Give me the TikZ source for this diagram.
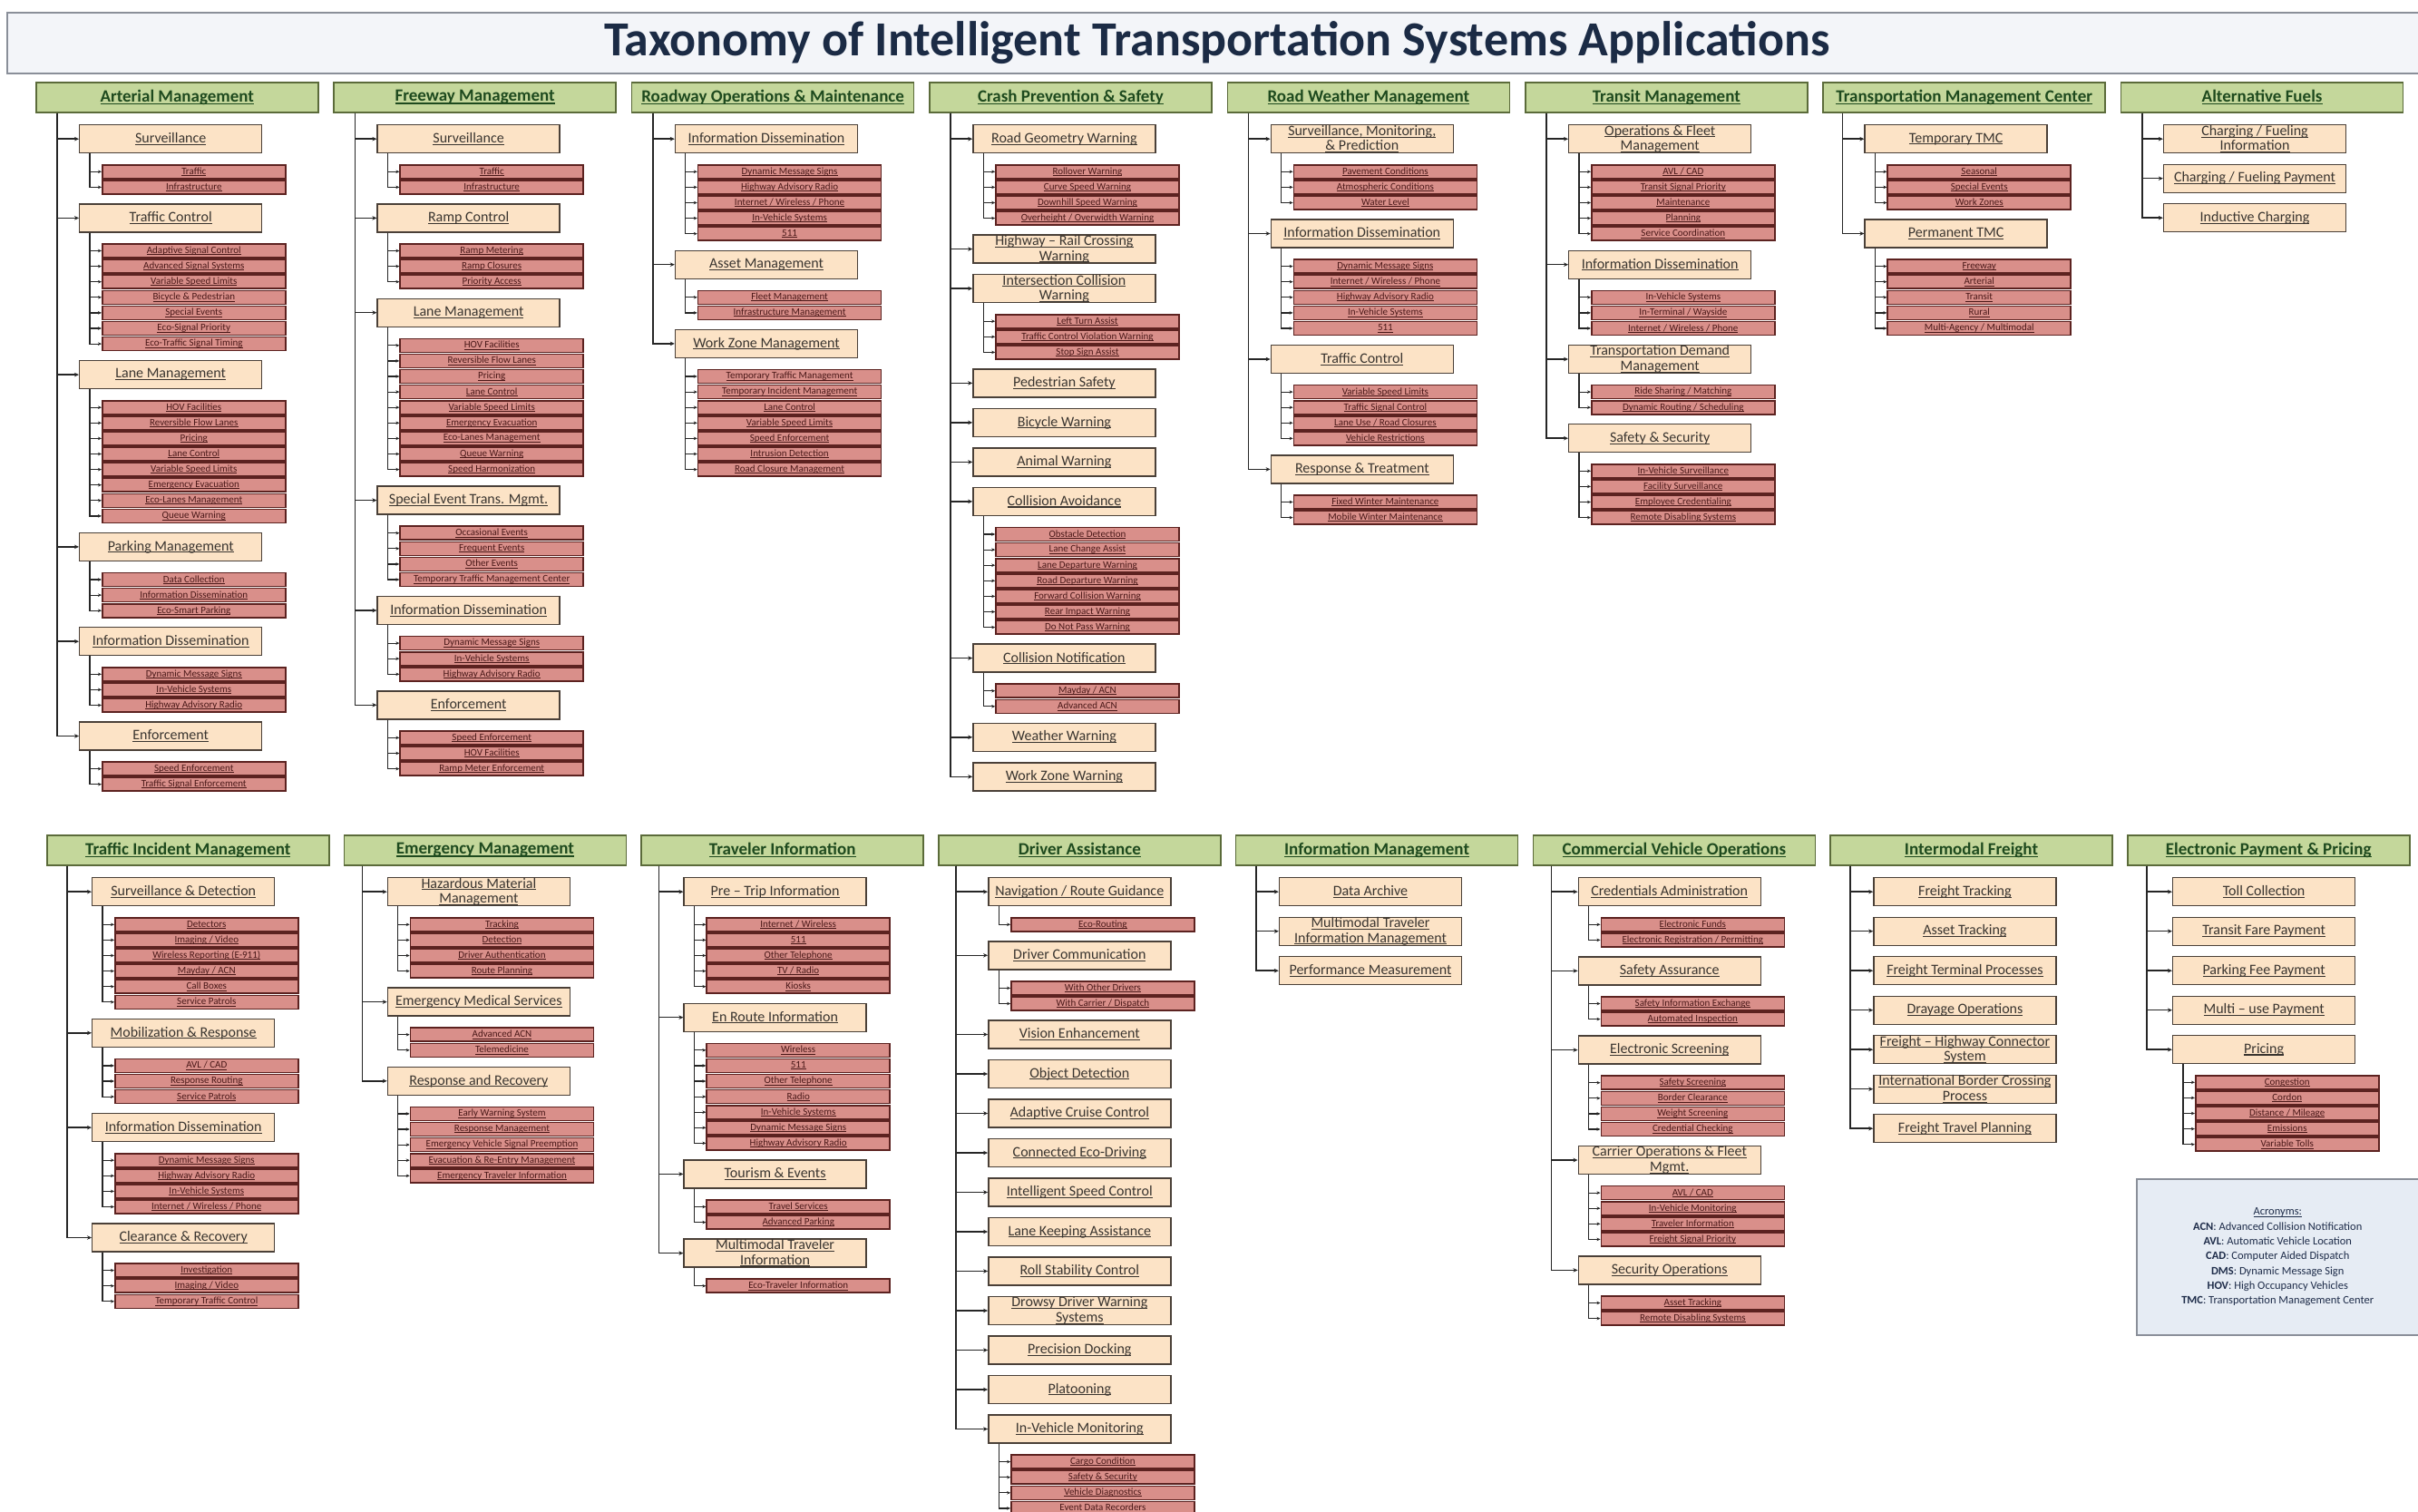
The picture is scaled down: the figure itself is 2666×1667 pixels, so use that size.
\documentclass[tikz,border=0pt]{standalone}
\usepackage{fontspec}
\setmainfont{Carlito}
\usetikzlibrary{arrows.meta,calc}

\definecolor{hdrfill}{HTML}{C4D79B}
\definecolor{hdrline}{HTML}{5B6B3A}
\definecolor{hdrtext}{HTML}{1E4A1E}
\definecolor{catfill}{HTML}{FCE3C6}
\definecolor{catline}{HTML}{4A4038}
\definecolor{cattext}{HTML}{3A3530}
\definecolor{itemfill}{HTML}{D98F8A}
\definecolor{itemline}{HTML}{5C2220}
\definecolor{itemtext}{HTML}{4A1818}
\definecolor{titlefill}{HTML}{F3F5F9}
\definecolor{titleline}{HTML}{8A8F99}
\definecolor{titletext}{HTML}{1B2B45}
\definecolor{notefill}{HTML}{E6ECF4}
\definecolor{notetext}{HTML}{1F2D4A}

% underline whose rule scales with the font size
\newsavebox\ulbox
\newcommand\UL[1]{\leavevmode\sbox\ulbox{#1}\rlap{\rule[-0.14em]{\wd\ulbox}{0.07em}}\usebox\ulbox}

\tikzset{
  hdr/.style={draw=hdrline, line width=1.6pt, fill=hdrfill, minimum width=311pt,
    minimum height=33pt, inner sep=0pt, anchor=north west,
    font=\fontsize{19}{20}\selectfont\bfseries, text=hdrtext},
  cat/.style={draw=catline, line width=1.4pt, fill=catfill, minimum width=201pt,
    minimum height=31pt, inner sep=0pt, anchor=north west, align=center,
    font=\fontsize{16}{16.5}\selectfont, text=cattext},
  item/.style={draw=itemline, line width=1.6pt, fill=itemfill, minimum width=202pt,
    minimum height=15pt, inner sep=0pt, anchor=north west,
    font=\fontsize{11}{11}\selectfont, text=itemtext},
  trunk/.style={draw=black!85, line width=1.5pt, -{Stealth[length=5pt,width=4.5pt]}},
  twig/.style={draw=black!85, line width=1.2pt, -{Stealth[length=4pt,width=3.5pt]}},
}

\newcounter{catn}
\newcounter{itemn}

% #1 id, #2 left x, #3 top y, #4 title, #5 category offset, #6 trunk offset
\newcommand\TaxCol[6]{%
  \node[hdr] (#1) at (#2,#3) {\UL{#4}};
  \coordinate (#1-t) at ($(#1.south west)+(#6,0)$);
  \xdef\ColId{#1}%
  \setcounter{catn}{0}%
  \pgfmathparse{#2+#5}\xdef\CatX{\pgfmathresult}%
  \pgfmathparse{#3+47}\xdef\NextY{\pgfmathresult}%
}
\newcommand\TaxCatNode[1]{%
  \stepcounter{catn}\setcounter{itemn}{0}%
  \xdef\CatId{\ColId-c\arabic{catn}}%
  \node[cat] (\CatId) at (\CatX,\NextY) {#1};
  \draw[trunk] (\ColId-t) |- (\CatId.west);
  \coordinate (\CatId-t) at ($(\CatId.south west)+(12,0)$);
  \pgfmathparse{\NextY+44}\xdef\ItemY{\pgfmathresult}%
  \pgfmathparse{\NextY+43.5}\xdef\NextY{\pgfmathresult}%
  \pgfmathparse{\CatX+25}\xdef\ItemX{\pgfmathresult}%
}
\newcommand\TaxCat[1]{\TaxCatNode{\UL{#1}}}
\newcommand\TaxCatII[2]{\TaxCatNode{\UL{#1}\\\UL{#2}}}
\newcommand\TaxItem[1]{%
  \stepcounter{itemn}%
  \xdef\ItemId{\CatId-i\arabic{itemn}}%
  \node[item] (\ItemId) at (\ItemX,\ItemY) {\UL{#1}};
  \draw[twig] (\CatId-t) |- (\ItemId.west);
  \pgfmathparse{\ItemY+17.1}\xdef\ItemY{\pgfmathresult}%
  \pgfmathparse{\ItemY+9}\xdef\NextY{\pgfmathresult}%
}

\begin{document}
\begin{tikzpicture}[x=1pt,y=-1pt]
\useasboundingbox (0,0) rectangle (2666,1667);
\fill[white] (0,0) rectangle (2666,1667);
\clip (0,0) rectangle (2666,1667);

% title bar
\node[draw=titleline, line width=1.6pt, fill=titlefill, anchor=north west,
  minimum width=2668pt, minimum height=67pt, inner sep=0pt,
  font=\fontsize{54}{60}\selectfont\bfseries, text=titletext]
  (title) at (7,13) {Taxonomy of Intelligent Transportation Systems Applications};

% ---------------- upper row ----------------
\TaxCol{ta}{39}{90}{Arterial Management}{48}{24}
\TaxCat{Surveillance}
  \TaxItem{Traffic}\TaxItem{Infrastructure}
\TaxCat{Traffic Control}
  \TaxItem{Adaptive Signal Control}\TaxItem{Advanced Signal Systems}
  \TaxItem{Variable Speed Limits}\TaxItem{Bicycle \& Pedestrian}
  \TaxItem{Special Events}\TaxItem{Eco-Signal Priority}
  \TaxItem{Eco-Traffic Signal Timing}
\TaxCat{Lane Management}
  \TaxItem{HOV Facilities}\TaxItem{Reversible Flow Lanes}\TaxItem{Pricing}
  \TaxItem{Lane Control}\TaxItem{Variable Speed Limits}
  \TaxItem{Emergency Evacuation}\TaxItem{Eco-Lanes Management}
  \TaxItem{Queue Warning}
\TaxCat{Parking Management}
  \TaxItem{Data Collection}\TaxItem{Information Dissemination}
  \TaxItem{Eco-Smart Parking}
\TaxCat{Information Dissemination}
  \TaxItem{Dynamic Message Signs}\TaxItem{In-Vehicle Systems}
  \TaxItem{Highway Advisory Radio}
\TaxCat{Enforcement}
  \TaxItem{Speed Enforcement}\TaxItem{Traffic Signal Enforcement}

\TaxCol{tb}{367.4}{90}{Freeway Management}{48}{24}
\TaxCat{Surveillance}
  \TaxItem{Traffic}\TaxItem{Infrastructure}
\TaxCat{Ramp Control}
  \TaxItem{Ramp Metering}\TaxItem{Ramp Closures}\TaxItem{Priority Access}
\TaxCat{Lane Management}
  \TaxItem{HOV Facilities}\TaxItem{Reversible Flow Lanes}\TaxItem{Pricing}
  \TaxItem{Lane Control}\TaxItem{Variable Speed Limits}
  \TaxItem{Emergency Evacuation}\TaxItem{Eco-Lanes Management}
  \TaxItem{Queue Warning}\TaxItem{Speed Harmonization}
\TaxCat{Special Event Trans. Mgmt.}
  \TaxItem{Occasional Events}\TaxItem{Frequent Events}\TaxItem{Other Events}
  \TaxItem{Temporary Traffic Management Center}
\TaxCat{Information Dissemination}
  \TaxItem{Dynamic Message Signs}\TaxItem{In-Vehicle Systems}
  \TaxItem{Highway Advisory Radio}
\TaxCat{Enforcement}
  \TaxItem{Speed Enforcement}\TaxItem{HOV Facilities}
  \TaxItem{Ramp Meter Enforcement}

\TaxCol{tc}{695.8}{90}{Roadway Operations \& Maintenance}{48}{24}
\TaxCat{Information Dissemination}
  \TaxItem{Dynamic Message Signs}\TaxItem{Highway Advisory Radio}
  \TaxItem{Internet / Wireless / Phone}\TaxItem{In-Vehicle Systems}
  \TaxItem{511}
\TaxCat{Asset Management}
  \TaxItem{Fleet Management}\TaxItem{Infrastructure Management}
\TaxCat{Work Zone Management}
  \TaxItem{Temporary Traffic Management}\TaxItem{Temporary Incident Management}
  \TaxItem{Lane Control}\TaxItem{Variable Speed Limits}
  \TaxItem{Speed Enforcement}\TaxItem{Intrusion Detection}
  \TaxItem{Road Closure Management}

\TaxCol{td}{1024.2}{90}{Crash Prevention \& Safety}{48}{24}
\TaxCat{Road Geometry Warning}
  \TaxItem{Rollover Warning}\TaxItem{Curve Speed Warning}
  \TaxItem{Downhill Speed Warning}\TaxItem{Overheight / Overwidth Warning}
\TaxCatII{Highway -- Rail Crossing}{Warning}
\TaxCatII{Intersection Collision}{Warning}
  \TaxItem{Left Turn Assist}\TaxItem{Traffic Control Violation Warning}
  \TaxItem{Stop Sign Assist}
\TaxCat{Pedestrian Safety}
\TaxCat{Bicycle Warning}
\TaxCat{Animal Warning}
\TaxCat{Collision Avoidance}
  \TaxItem{Obstacle Detection}\TaxItem{Lane Change Assist}
  \TaxItem{Lane Departure Warning}\TaxItem{Road Departure Warning}
  \TaxItem{Forward Collision Warning}\TaxItem{Rear Impact Warning}
  \TaxItem{Do Not Pass Warning}
\TaxCat{Collision Notification}
  \TaxItem{Mayday / ACN}\TaxItem{Advanced ACN}
\TaxCat{Weather Warning}
\TaxCat{Work Zone Warning}

\TaxCol{te}{1352.6}{90}{Road Weather Management}{48}{24}
\TaxCatII{Surveillance, Monitoring,}{\& Prediction}
  \TaxItem{Pavement Conditions}\TaxItem{Atmospheric Conditions}
  \TaxItem{Water Level}
\TaxCat{Information Dissemination}
  \TaxItem{Dynamic Message Signs}\TaxItem{Internet / Wireless / Phone}
  \TaxItem{Highway Advisory Radio}\TaxItem{In-Vehicle Systems}\TaxItem{511}
\TaxCat{Traffic Control}
  \TaxItem{Variable Speed Limits}\TaxItem{Traffic Signal Control}
  \TaxItem{Lane Use / Road Closures}\TaxItem{Vehicle Restrictions}
\TaxCat{Response \& Treatment}
  \TaxItem{Fixed Winter Maintenance}\TaxItem{Mobile Winter Maintenance}

\TaxCol{tf}{1681}{90}{Transit Management}{48}{24}
\TaxCatII{Operations \& Fleet}{Management}
  \TaxItem{AVL / CAD}\TaxItem{Transit Signal Priority}\TaxItem{Maintenance}
  \TaxItem{Planning}\TaxItem{Service Coordination}
\TaxCat{Information Dissemination}
  \TaxItem{In-Vehicle Systems}\TaxItem{In-Terminal / Wayside}
  \TaxItem{Internet / Wireless / Phone}
\TaxCatII{Transportation Demand}{Management}
  \TaxItem{Ride Sharing / Matching}\TaxItem{Dynamic Routing / Scheduling}
\TaxCat{Safety \& Security}
  \TaxItem{In-Vehicle Surveillance}\TaxItem{Facility Surveillance}
  \TaxItem{Employee Credentialing}\TaxItem{Remote Disabling Systems}

\TaxCol{tg}{2009.4}{90}{Transportation Management Center}{46}{22}
\TaxCat{Temporary TMC}
  \TaxItem{Seasonal}\TaxItem{Special Events}\TaxItem{Work Zones}
\TaxCat{Permanent TMC}
  \TaxItem{Freeway}\TaxItem{Arterial}\TaxItem{Transit}\TaxItem{Rural}
  \TaxItem{Multi-Agency / Multimodal}

\TaxCol{th}{2337.8}{90}{Alternative Fuels}{47}{24}
\TaxCatII{Charging / Fueling}{Information}
\TaxCat{Charging / Fueling Payment}
\TaxCat{Inductive Charging}

% ---------------- lower row ----------------
\TaxCol{ba}{51}{920}{Traffic Incident Management}{50}{23}
\TaxCat{Surveillance \& Detection}
  \TaxItem{Detectors}\TaxItem{Imaging / Video}
  \TaxItem{Wireless Reporting (E-911)}\TaxItem{Mayday / ACN}
  \TaxItem{Call Boxes}\TaxItem{Service Patrols}
\TaxCat{Mobilization \& Response}
  \TaxItem{AVL / CAD}\TaxItem{Response Routing}\TaxItem{Service Patrols}
\TaxCat{Information Dissemination}
  \TaxItem{Dynamic Message Signs}\TaxItem{Highway Advisory Radio}
  \TaxItem{In-Vehicle Systems}\TaxItem{Internet / Wireless / Phone}
\TaxCat{Clearance \& Recovery}
  \TaxItem{Investigation}\TaxItem{Imaging / Video}
  \TaxItem{Temporary Traffic Control}

\TaxCol{bb}{378.7}{920}{Emergency Management}{48}{21}
\TaxCatII{Hazardous Material}{Management}
  \TaxItem{Tracking}\TaxItem{Detection}\TaxItem{Driver Authentication}
  \TaxItem{Route Planning}
\TaxCat{Emergency Medical Services}
  \TaxItem{Advanced ACN}\TaxItem{Telemedicine}
\TaxCat{Response and Recovery}
  \TaxItem{Early Warning System}\TaxItem{Response Management}
  \TaxItem{Emergency Vehicle Signal Preemption}
  \TaxItem{Evacuation \& Re-Entry Management}
  \TaxItem{Emergency Traveler Information}

\TaxCol{bc}{706.4}{920}{Traveler Information}{47}{20}
\TaxCat{Pre -- Trip Information}
  \TaxItem{Internet / Wireless}\TaxItem{511}\TaxItem{Other Telephone}
  \TaxItem{TV / Radio}\TaxItem{Kiosks}
\TaxCat{En Route Information}
  \TaxItem{Wireless}\TaxItem{511}\TaxItem{Other Telephone}\TaxItem{Radio}
  \TaxItem{In-Vehicle Systems}\TaxItem{Dynamic Message Signs}
  \TaxItem{Highway Advisory Radio}
\TaxCat{Tourism \& Events}
  \TaxItem{Travel Services}\TaxItem{Advanced Parking}
\TaxCatII{Multimodal Traveler}{Information}
  \TaxItem{Eco-Traveler Information}

\TaxCol{bd}{1034.1}{920}{Driver Assistance}{55}{20}
\TaxCat{Navigation / Route Guidance}
  \TaxItem{Eco-Routing}
\TaxCat{Driver Communication}
  \TaxItem{With Other Drivers}\TaxItem{With Carrier / Dispatch}
\TaxCat{Vision Enhancement}
\TaxCat{Object Detection}
\TaxCat{Adaptive Cruise Control}
\TaxCat{Connected Eco-Driving}
\TaxCat{Intelligent Speed Control}
\TaxCat{Lane Keeping Assistance}
\TaxCat{Roll Stability Control}
\TaxCatII{Drowsy Driver Warning}{Systems}
\TaxCat{Precision Docking}
\TaxCat{Platooning}
\TaxCat{In-Vehicle Monitoring}
  \TaxItem{Cargo Condition}\TaxItem{Safety \& Security}
  \TaxItem{Vehicle Diagnostics}\TaxItem{Event Data Recorders}

\TaxCol{be}{1361.8}{920}{Information Management}{48}{23}
\TaxCat{Data Archive}
\TaxCatII{Multimodal Traveler}{Information Management}
\TaxCat{Performance Measurement}

\TaxCol{bf}{1689.5}{920}{Commercial Vehicle Operations}{50}{21}
\TaxCat{Credentials Administration}
  \TaxItem{Electronic Funds}\TaxItem{Electronic Registration / Permitting}
\TaxCat{Safety Assurance}
  \TaxItem{Safety Information Exchange}\TaxItem{Automated Inspection}
\TaxCat{Electronic Screening}
  \TaxItem{Safety Screening}\TaxItem{Border Clearance}
  \TaxItem{Weight Screening}\TaxItem{Credential Checking}
\TaxCatII{Carrier Operations \& Fleet}{Mgmt.}
  \TaxItem{AVL / CAD}\TaxItem{In-Vehicle Monitoring}
  \TaxItem{Traveler Information}\TaxItem{Freight Signal Priority}
\TaxCat{Security Operations}
  \TaxItem{Asset Tracking}\TaxItem{Remote Disabling Systems}

\TaxCol{bg}{2017.2}{920}{Intermodal Freight}{48}{23}
\TaxCat{Freight Tracking}
\TaxCat{Asset Tracking}
\TaxCat{Freight Terminal Processes}
\TaxCat{Drayage Operations}
\TaxCatII{Freight -- Highway Connector}{System}
\TaxCatII{International Border Crossing}{Process}
\TaxCat{Freight Travel Planning}

\TaxCol{bh}{2344.9}{920}{Electronic Payment \& Pricing}{50}{22}
\TaxCat{Toll Collection}
\TaxCat{Transit Fare Payment}
\TaxCat{Parking Fee Payment}
\TaxCat{Multi -- use Payment}
\TaxCat{Pricing}
  \TaxItem{Congestion}\TaxItem{Cordon}\TaxItem{Distance / Mileage}
  \TaxItem{Emissions}\TaxItem{Variable Tolls}

% acronym list
\node[draw=titleline, line width=1.5pt, fill=notefill, anchor=north west,
  minimum width=311pt, minimum height=172pt, inner sep=0pt, align=center,
  font=\fontsize{12.5}{16.3}\selectfont, text=notetext]
  (acronyms) at (2355,1299) {\UL{Acronyms:}\\
  \textbf{ACN}: Advanced Collision Notification\\
  \textbf{AVL}: Automatic Vehicle Location\\
  \textbf{CAD}: Computer Aided Dispatch\\
  \textbf{DMS}: Dynamic Message Sign\\
  \textbf{HOV}: High Occupancy Vehicles\\
  \textbf{TMC}: Transportation Management Center};
\end{tikzpicture}
\end{document}
